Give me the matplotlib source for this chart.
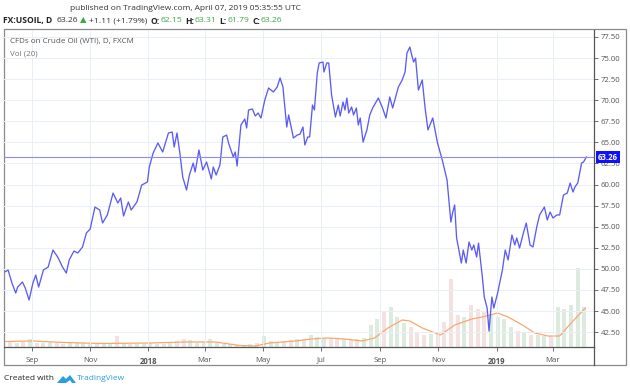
import matplotlib
matplotlib.use("Agg")
import matplotlib.pyplot as plt
from matplotlib.patches import Rectangle, Polygon
import pandas as pd

plt.rcParams['font.family'] = ['Open Sans', 'DejaVu Sans']

# price trace: days from 2017-09-01, close
price_days = [-28, -25, -21, -17, -15, -10, -7, -3, 1, 4, 7, 12, 17, 22, 27, 32, 36, 39, 44, 48,
              53, 57, 61, 66, 71, 74, 79, 85, 90, 93, 96, 101, 104, 110, 115, 121, 123, 127, 132, 137,
              143, 147, 149, 152, 155, 158, 162, 165, 169, 171, 175, 179, 183, 188, 190, 193, 197, 200, 204, 206,
              211, 213, 215, 219, 223, 225, 227, 231, 234, 237, 240, 244, 248, 253, 257, 260, 263, 267, 269, 274,
              278, 281, 284, 286, 289, 291, 294, 296, 299, 301, 305, 306, 309, 311, 314, 318, 321, 323, 326, 328,
              330, 332, 335, 337, 340, 342, 344, 347, 351, 354, 357, 363, 367, 371, 375, 378, 384, 388, 391, 393,
              396, 398, 400, 402, 405, 409, 412, 415, 420, 425, 430, 435, 439, 441, 443, 445, 450, 452, 455, 458,
              461, 463, 466, 468, 472, 474, 477, 479, 482, 484, 488, 493, 496, 499, 503, 506, 508, 511, 515, 518,
              522, 525, 529, 532, 537, 540, 543, 546, 550, 553, 557, 561, 564, 567, 569, 572, 576, 578, 581]
price_close = [49.66, 49.86, 48.32, 47.13, 47.84, 48.44, 47.72, 46.30, 48.32, 49.27, 47.84, 49.86, 50.22, 52.23, 51.40, 50.22, 49.50, 51.05, 52.11, 51.88,
               52.59, 54.25, 54.72, 57.33, 56.98, 55.44, 56.39, 58.99, 57.81, 58.40, 56.27, 57.93, 56.98, 57.93, 59.94, 60.30, 62.08, 63.74, 64.93, 63.86,
               66.11, 66.23, 64.45, 66.11, 63.74, 60.89, 59.35, 61.13, 62.55, 61.49, 64.10, 61.72, 62.67, 60.66, 62.08, 61.13, 62.32, 65.64, 65.87, 64.93,
               63.27, 63.86, 62.20, 67.06, 67.77, 66.71, 68.84, 68.96, 68.13, 68.48, 67.89, 70.03, 71.45, 70.98, 71.57, 72.64, 71.57, 66.82, 68.25, 65.52,
               65.87, 65.99, 66.82, 64.69, 65.64, 65.64, 69.43, 68.84, 73.23, 74.42, 74.53, 73.35, 74.42, 74.42, 70.62, 68.01, 69.43, 68.13, 69.79, 68.84,
               70.26, 68.48, 69.20, 68.25, 69.08, 67.06, 67.89, 65.04, 66.47, 68.25, 69.08, 70.26, 69.20, 67.89, 70.38, 69.08, 71.57, 72.40, 73.35, 75.60,
               76.31, 75.36, 74.53, 75.01, 71.21, 72.40, 69.08, 66.47, 67.89, 64.93, 62.91, 60.54, 55.55, 56.74, 57.57, 53.66, 50.69, 52.23, 50.69, 53.18,
               52.23, 52.83, 51.40, 53.06, 49.03, 46.66, 45.35, 42.62, 46.66, 45.35, 47.13, 49.86, 52.23, 51.05, 54.01, 52.83, 53.66, 52.47, 54.25, 55.44,
               52.83, 52.59, 54.96, 56.39, 57.33, 55.79, 56.74, 56.03, 56.39, 56.39, 58.76, 58.99, 60.18, 59.11, 59.71, 60.18, 62.55, 62.67, 63.26]
last_price = 63.26

# weekly volume (relative units) from 2017-08-04, up/down colour
vol_values = [9, 5, 4, 5, 8, 4, 4, 5, 4, 3, 4, 4, 4, 3, 4, 3, 4, 11, 4, 3,
              3, 3, 4, 3, 3, 4, 6, 8, 7, 4, 5, 8, 5, 3, 3, 2, 2, 3, 4, 11,
              6, 5, 6, 7, 8, 8, 12, 10, 9, 9, 8, 8, 7, 8, 9, 22, 28, 36, 40, 30,
              24, 20, 14, 12, 13, 15, 25, 68, 32, 30, 42, 38, 35, 33, 30, 28, 20, 16, 14, 12,
              12, 11, 11, 40, 38, 42, 79, 40]
vol_dir = list("rrgrgrggrrggggrggrgr"
               "ggggrgrrggrgggrgggrg"
               "ggrrgrgggrrgrrgggrgg"
               "grrrgrrrrgrrrggggrgr"
               "ggrggggg")
# Vol(20) moving average readings: days from 2017-09-01, value
ma_days = [-28, 1, 29, 71, 124, 160, 192, 218, 234, 249, 276, 293, 310, 328, 346, 359, 373, 388, 396, 409,
           428, 443, 461, 472, 488, 499, 514, 527, 541, 553, 566, 580]
ma_values = [5.5, 6, 4.7, 3.5, 4, 5, 5, 1.5, 1, 4, 6, 8, 9, 8, 6, 9, 19, 27, 26, 19,
             12, 22, 28, 30, 34, 30, 22, 14, 11, 11, 25, 39]

month_ticks = ["2017-09-01", "2017-11-01", "2018-01-01", "2018-03-01", "2018-05-01",
               "2018-07-01", "2018-09-01", "2018-11-01", "2019-01-01", "2019-03-01"]
month_labels = ["Sep", "Nov", "2018", "Mar", "May", "Jul", "Sep", "Nov", "2019", "Mar"]
price_ticks = [42.5, 45, 47.5, 50, 52.5, 55, 57.5, 60, 62.5, 65, 67.5, 70, 72.5, 75, 77.5]

base = pd.Timestamp("2017-09-01")
price_dates = base + pd.to_timedelta(price_days, unit="D")
ma_dates = base + pd.to_timedelta(ma_days, unit="D")
vol_dates = pd.date_range("2017-08-04", periods=len(vol_values), freq="7D")

W, H = 630, 391
fig = plt.figure(figsize=(W / 100, H / 100), dpi=100)
fig.patch.set_facecolor("white")

# outer frame
fig.add_artist(Rectangle((4 / W, 1 - 365 / H), 622 / W, 336 / H, transform=fig.transFigure,
                         fill=False, edgecolor="#8a8a8a", linewidth=0.9))

ax = fig.add_axes([4 / W, 1 - 347 / H, 590 / W, 317 / H])
ax2 = ax.twinx()
ax.set_zorder(ax2.get_zorder() + 1)
ax.patch.set_visible(False)

# volume
up_c, dn_c = "#dcebdd", "#f4e1e1"
ax2.bar(vol_dates + pd.Timedelta(days=-2), vol_values, width=4.2,
        color=[up_c if d == "g" else dn_c for d in vol_dir], linewidth=0)
ax2.plot(ma_dates, ma_values, color="#f7a86f", linewidth=0.9)
ax2.set_ylim(0, 317)
ax2.set_yticks([])
for s in ax2.spines.values():
    s.set_visible(False)

# price
ax.plot(price_dates, price_close, color="#5c5cf5", linewidth=0.95)
ax.axhline(last_price, color="#8c8cf5", linewidth=0.8)

x0 = base - pd.Timedelta(days=29.3)
x1 = base + pd.Timedelta(days=589)
ax.set_xlim(x0, x1)
ax2.set_xlim(x0, x1)
ax.set_ylim(40.73, 78.33)

ax.yaxis.tick_right()
ax.set_yticks(price_ticks)
ax.set_yticklabels([f"{v:.2f}" for v in price_ticks])
ax.set_xticks(pd.to_datetime(month_ticks))
ax.set_xticklabels(month_labels)
for lbl in ax.get_xticklabels():
    if lbl.get_text() in ("2018", "2019"):
        lbl.set_fontweight("bold")
        lbl.set_color("#444444")
ax.tick_params(axis="y", labelsize=5.6, colors="#555555", length=3, width=0.6, pad=2)
ax.tick_params(axis="x", labelsize=5.6, colors="#555555", length=3, width=0.6, pad=4)
ax.grid(True, color="#e9eff6", linewidth=0.7)
for side in ("top", "left"):
    ax.spines[side].set_visible(False)
ax.spines["right"].set_color("#555555")
ax.spines["bottom"].set_color("#555555")
ax.spines["right"].set_linewidth(0.9)
ax.spines["bottom"].set_linewidth(0.9)

# right axis line through the date strip
fig.add_artist(plt.Line2D([594 / W, 594 / W], [1 - 365 / H, 1 - 347 / H], transform=fig.transFigure,
                          color="#555555", linewidth=0.9))

# last price label
ax.annotate(f"{last_price:.2f}", xy=(1, last_price), xycoords=("axes fraction", "data"),
            xytext=(3, 0), textcoords="offset points", ha="left", va="center",
            fontsize=5.6, fontweight="bold", color="white",
            bbox=dict(boxstyle="square,pad=0.25", fc="#1010ff", ec="none"))

ax.text(6 / 590, 1 - 11 / 317, "CFDs on Crude Oil (WTI), D, FXCM", transform=ax.transAxes,
        fontsize=5.8, color="#555555", va="center")
ax.text(6 / 590, 1 - 24 / 317, "Vol (20)", transform=ax.transAxes,
        fontsize=5.8, color="#777777", va="center")

# header
fig.text(70 / W, 1 - 8 / H, "published on TradingView.com, April 07, 2019 05:35:55 UTC",
         fontsize=6.0, color="#333333", va="center")
renderer = fig.canvas.get_renderer()
green = "#3aa845"
segments = [("FX:USOIL, D", "bold", "#222222", 4), ("63.26", "normal", "#333333", 2.5),
            ("▲", "normal", green, 2.5), ("+1.11 (+1.79%)", "normal", "#333333", 3),
            ("O:", "bold", "#222222", 0.5), ("62.15", "normal", green, 3),
            ("H:", "bold", "#222222", 0.5), ("63.31", "normal", green, 3),
            ("L:", "bold", "#222222", 0.5), ("61.79", "normal", green, 3),
            ("C:", "bold", "#222222", 0.5), ("63.26", "normal", green, 0)]
xpix = 3
for text, weight, color, gap in segments:
    t = fig.text(xpix / W, 1 - 21 / H, text, fontsize=6.1, fontweight=weight, color=color, va="center")
    bb = t.get_window_extent(renderer)
    xpix += bb.width + gap

# footer
fig.text(4 / W, 1 - 379 / H, "Created with", fontsize=6.0, color="#222222", va="center")
logo = Polygon([(57, 383), (63, 376), (66, 379), (70, 375), (76, 383), (72, 383), (70, 380), (66, 383)],
               closed=True, transform=None, fc="#2a9fe0", ec="none")
logo.set_xy([(px, H - py) for px, py in logo.get_xy()])
fig.add_artist(logo)
fig.text(77 / W, 1 - 379 / H, "TradingView", fontsize=6.0, color="#2a9fe0", va="center")

fig.savefig("out.png", dpi=100)
